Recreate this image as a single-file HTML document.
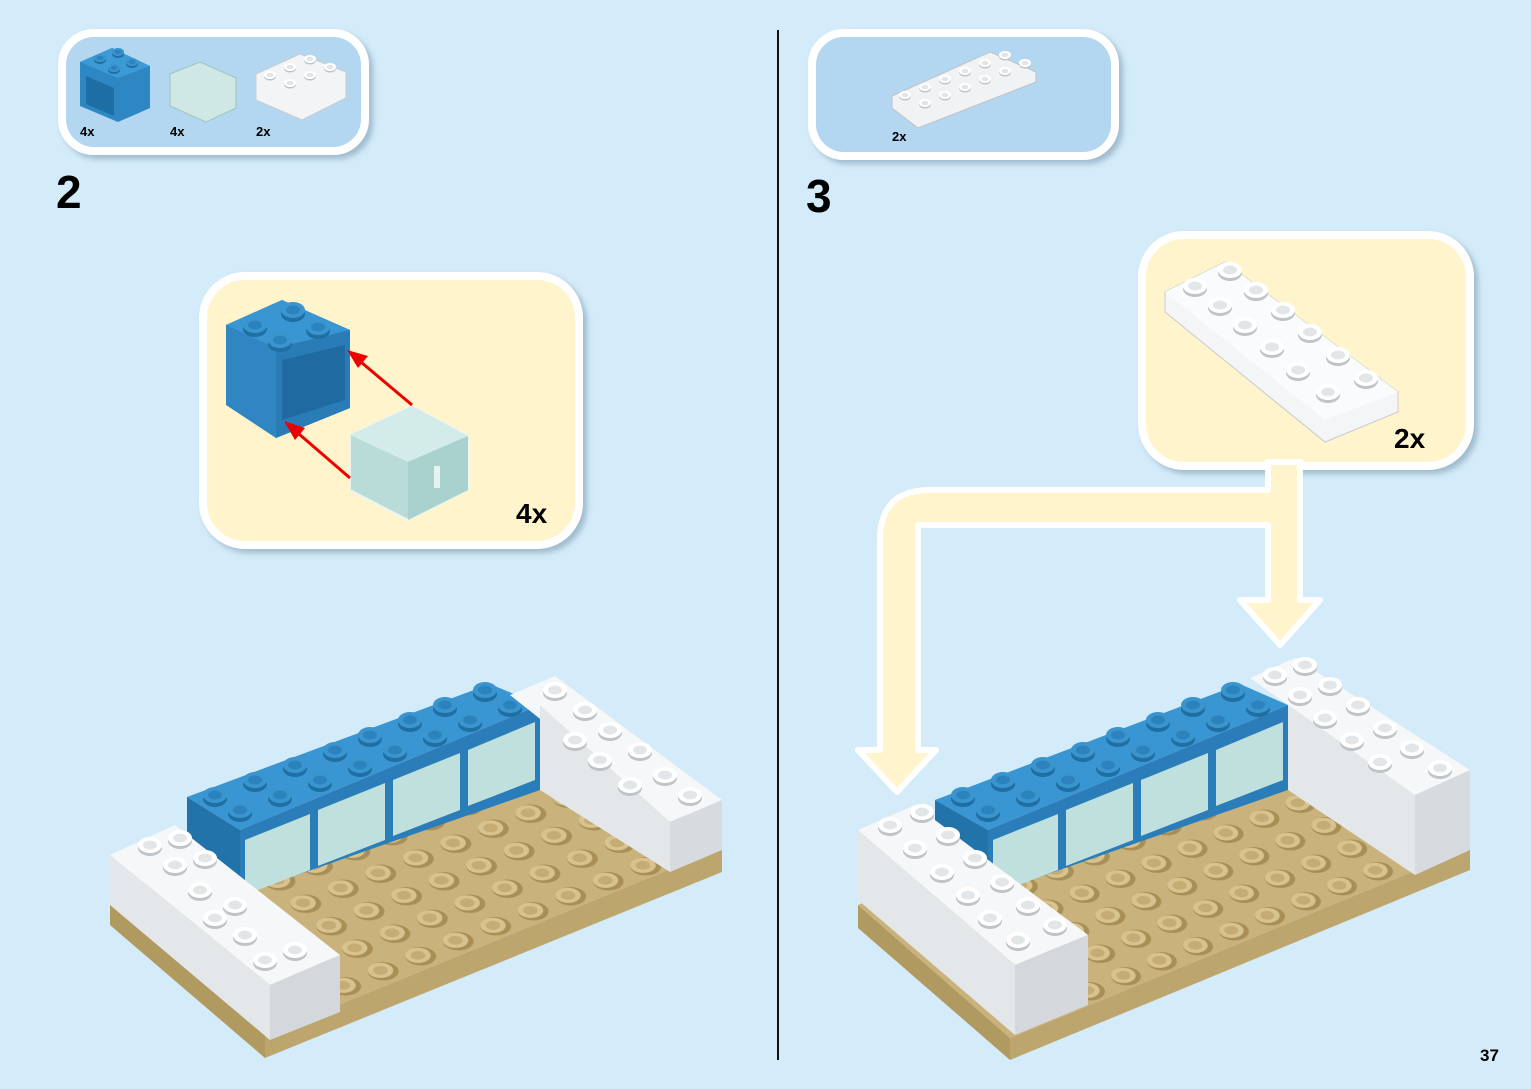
<!DOCTYPE html>
<html><head><meta charset="utf-8"><style>
html,body{margin:0;padding:0;background:#d4ebf9;}
svg{display:block;font-family:"Liberation Sans",sans-serif;}
</style></head><body>
<svg width="1531" height="1089" viewBox="0 0 1531 1089">
<defs>
<filter id="sh" x="-10%" y="-10%" width="130%" height="130%"><feDropShadow dx="4" dy="4" stdDeviation="3" flood-color="#7a9bb0" flood-opacity="0.6"/></filter>
<pattern id="studL" patternUnits="userSpaceOnUse" width="1" height="1" patternTransform="matrix(37.5 -15 25.8 22.5 110 900)">
<circle cx="0.5" cy="0.5" r="0.34" fill="#a98f55"/><circle cx="0.47" cy="0.44" r="0.28" fill="#d8c38e"/><circle cx="0.47" cy="0.44" r="0.16" fill="#c4ac74"/></pattern>
<pattern id="studR" patternUnits="userSpaceOnUse" width="1" height="1" patternTransform="matrix(36 -15 25.8 22.5 858 905)">
<circle cx="0.5" cy="0.5" r="0.34" fill="#a98f55"/><circle cx="0.47" cy="0.44" r="0.28" fill="#d8c38e"/><circle cx="0.47" cy="0.44" r="0.16" fill="#c4ac74"/></pattern>
<g id="wst"><ellipse cx="0" cy="3" rx="12" ry="8" fill="#bfc4c8"/><ellipse cx="0" cy="0" rx="12" ry="8" fill="#fff"/><ellipse cx="0" cy="0" rx="7" ry="4.5" fill="#e3e6e8"/></g>
<g id="bst"><ellipse cx="0" cy="4" rx="12" ry="8" fill="#1f6fa3"/><ellipse cx="0" cy="0" rx="12" ry="8" fill="#3a95cf"/><ellipse cx="0" cy="0" rx="7" ry="4.5" fill="#2b82bd"/></g>
</defs>

<line x1="778" y1="30" x2="778" y2="1060" stroke="#111" stroke-width="2"/>

<!-- parts box 1 -->
<rect x="62" y="33" width="303" height="118" rx="32" fill="#b3d6f1" stroke="#fff" stroke-width="8" filter="url(#sh)"/>
<polygon points="80,62 112,48 150,66 150,108 118,122 80,106" fill="#2e87c3"/>
<polygon points="80,62 118,78 150,66 112,48" fill="#3c9ad6"/>
<polygon points="86,76 114,88 114,116 86,104" fill="#1c6ea5"/>
<use href="#bst" transform="translate(100,58) scale(0.5)"/><use href="#bst" transform="translate(118,52) scale(0.5)"/><use href="#bst" transform="translate(114,68) scale(0.5)"/><use href="#bst" transform="translate(132,62) scale(0.5)"/>
<polygon points="170,74 200,62 236,78 236,108 206,122 170,106" fill="#cfe8e4" stroke="#9fc5c0"/>
<polygon points="256,74 300,54 346,72 346,98 302,120 256,100" fill="#f3f4f5" stroke="#c9ccd0"/>
<g transform="scale(0.5)">
<use href="#wst" transform="translate(540,150)"/><use href="#wst" transform="translate(580,134)"/><use href="#wst" transform="translate(620,118)"/>
<use href="#wst" transform="translate(580,166)"/><use href="#wst" transform="translate(620,150)"/><use href="#wst" transform="translate(660,134)"/>
</g>
<text x="80" y="136" font-size="13" font-weight="bold">4x</text>
<text x="170" y="136" font-size="13" font-weight="bold">4x</text>
<text x="256" y="136" font-size="13" font-weight="bold">2x</text>
<text x="56" y="208" font-size="46" font-weight="bold">2</text>

<!-- parts box 2 -->
<rect x="812" y="33" width="303" height="123" rx="32" fill="#b3d6f1" stroke="#fff" stroke-width="8" filter="url(#sh)"/>
<polygon points="892,96 990,52 1036,72 1036,82 918,128 892,108" fill="#f1f2f3" stroke="#bfc3c7"/>
<g transform="scale(0.5)">
<use href="#wst" transform="translate(1810,190)"/><use href="#wst" transform="translate(1850,174)"/><use href="#wst" transform="translate(1890,158)"/><use href="#wst" transform="translate(1930,142)"/><use href="#wst" transform="translate(1970,126)"/><use href="#wst" transform="translate(2010,110)"/>
<use href="#wst" transform="translate(1850,206)"/><use href="#wst" transform="translate(1890,190)"/><use href="#wst" transform="translate(1930,174)"/><use href="#wst" transform="translate(1970,158)"/><use href="#wst" transform="translate(2010,142)"/><use href="#wst" transform="translate(2050,126)"/>
</g>
<text x="892" y="141" font-size="13" font-weight="bold">2x</text>
<text x="806" y="212" font-size="46" font-weight="bold">3</text>

<!-- callout 1 -->
<rect x="203" y="276" width="376" height="269" rx="42" fill="#fff4cc" stroke="#fff" stroke-width="8" filter="url(#sh)"/>
<polygon points="226,325 282,300 350,330 350,408 276,438 226,405" fill="#2f86c2"/>
<polygon points="226,325 276,348 350,330 282,300" fill="#3a96d2"/>
<polygon points="276,348 350,330 350,408 276,438" fill="#2a7cb6"/>
<polygon points="282,360 345,345 345,400 282,420" fill="#1f6aa0"/>
<use href="#bst" transform="translate(255,325)"/><use href="#bst" transform="translate(293,310)"/><use href="#bst" transform="translate(280,340)"/><use href="#bst" transform="translate(318,327)"/>
<polygon points="350,435 412,406 468,436 468,490 408,520 350,490" fill="#b9dcd8" stroke="#eaf6f4" stroke-width="2"/>
<polygon points="350,435 408,462 468,436 412,406" fill="#d3ece9"/>
<polygon points="408,462 468,436 468,490 408,520" fill="#a9d1cd"/>
<rect x="434" y="466" width="6" height="22" fill="#e6f3f1"/>
<line x1="412" y1="405" x2="355" y2="357" stroke="#e00" stroke-width="3"/>
<polygon points="347,350 368,356 358,368" fill="#e00"/>
<line x1="350" y1="478" x2="292" y2="428" stroke="#e00" stroke-width="3"/>
<polygon points="284,421 305,428 295,440" fill="#e00"/>
<text x="516" y="523" font-size="28" font-weight="bold">4x</text>

<!-- callout 2 -->
<rect x="1142" y="235" width="328" height="231" rx="42" fill="#fff4cc" stroke="#fff" stroke-width="8" filter="url(#sh)"/>
<polygon points="1165,292 1225,262 1398,392 1398,412 1325,442 1165,312" fill="#f4f5f6" stroke="#c7cbcf"/>
<polygon points="1165,292 1325,420 1398,392 1225,262" fill="#fafbfc"/>
<g>
<use href="#wst" transform="translate(1195,286)"/><use href="#wst" transform="translate(1230,270)"/>
<use href="#wst" transform="translate(1220,305)"/><use href="#wst" transform="translate(1256,290)"/>
<use href="#wst" transform="translate(1245,325)"/><use href="#wst" transform="translate(1283,310)"/>
<use href="#wst" transform="translate(1272,347)"/><use href="#wst" transform="translate(1310,332)"/>
<use href="#wst" transform="translate(1298,370)"/><use href="#wst" transform="translate(1338,355)"/>
<use href="#wst" transform="translate(1328,392)"/><use href="#wst" transform="translate(1366,378)"/>
</g>
<text x="1394" y="448" font-size="28" font-weight="bold">2x</text>

<!-- yellow arrows -->
<g fill="#fff4cc" stroke="#fff" stroke-width="6" stroke-linejoin="round">
<path d="M1268,462 L1300,462 L1300,600 L1320,600 L1280,645 L1240,600 L1268,600 L1268,525 L918,525 L918,750 L936,750 L897,792 L858,750 L880,750 L880,540 Q880,490 930,490 L1268,490 Z"/>
</g>

<!-- left model -->
<polygon points="110,900 265,1035 265,1058 110,925" fill="#b09a60"/>
<polygon points="265,1035 722,848 722,872 265,1058" fill="#bca66d"/>
<polygon points="110,900 560,720 722,848 265,1035" fill="#c9b27b"/>
<polygon points="110,900 560,720 722,848 265,1035" fill="url(#studL)"/>
<polygon points="187,797 490,684 540,705 240,830" fill="#3a96d2"/>
<polygon points="240,830 540,705 540,790 240,895" fill="#2a7db8"/>
<polygon points="187,797 240,830 240,895 187,862" fill="#2273aa"/>
<polygon points="245,840 310,814 310,870 245,895" fill="#bfe0dc"/>
<polygon points="318,810 385,783 385,840 318,866" fill="#bfe0dc"/>
<polygon points="393,780 460,753 460,810 393,836" fill="#bfe0dc"/>
<polygon points="468,750 535,722 535,780 468,806" fill="#bfe0dc"/>
<g>
<use href="#bst" transform="translate(215,795)"/><use href="#bst" transform="translate(255,780)"/><use href="#bst" transform="translate(240,810)"/><use href="#bst" transform="translate(280,795)"/>
<use href="#bst" transform="translate(295,765)"/><use href="#bst" transform="translate(335,750)"/><use href="#bst" transform="translate(320,780)"/><use href="#bst" transform="translate(360,765)"/>
<use href="#bst" transform="translate(370,735)"/><use href="#bst" transform="translate(410,720)"/><use href="#bst" transform="translate(395,750)"/><use href="#bst" transform="translate(435,735)"/>
<use href="#bst" transform="translate(445,705)"/><use href="#bst" transform="translate(485,690)"/><use href="#bst" transform="translate(470,720)"/><use href="#bst" transform="translate(510,705)"/>
</g>
<polygon points="510,695 555,676 722,800 670,822" fill="#f6f7f8"/>
<polygon points="540,705 670,822 670,872 540,790" fill="#e4e7ea"/>
<polygon points="670,822 722,800 722,850 670,872" fill="#d7dbdf"/>
<use href="#wst" transform="translate(555,690)"/><use href="#wst" transform="translate(585,710)"/><use href="#wst" transform="translate(610,730)"/><use href="#wst" transform="translate(575,740)"/><use href="#wst" transform="translate(600,760)"/><use href="#wst" transform="translate(640,750)"/><use href="#wst" transform="translate(665,775)"/><use href="#wst" transform="translate(630,785)"/><use href="#wst" transform="translate(690,795)"/>
<polygon points="110,855 175,825 340,955 270,985" fill="#f6f7f8"/>
<polygon points="110,855 270,985 270,1040 110,905" fill="#e4e7ea"/>
<polygon points="270,985 340,955 340,1012 270,1040" fill="#d4d8dc"/>
<use href="#wst" transform="translate(150,845)"/><use href="#wst" transform="translate(180,838)"/><use href="#wst" transform="translate(175,865)"/><use href="#wst" transform="translate(205,858)"/><use href="#wst" transform="translate(200,890)"/><use href="#wst" transform="translate(235,905)"/><use href="#wst" transform="translate(215,918)"/><use href="#wst" transform="translate(245,935)"/><use href="#wst" transform="translate(265,960)"/><use href="#wst" transform="translate(295,950)"/>

<!-- right model -->
<polygon points="858,905 1010,1038 1010,1060 858,928" fill="#b09a60"/>
<polygon points="1010,1038 1470,848 1470,870 1010,1060" fill="#bca66d"/>
<polygon points="858,905 1290,715 1470,848 1010,1038" fill="#c9b27b"/>
<polygon points="858,905 1290,715 1470,848 1010,1038" fill="url(#studR)"/>
<polygon points="935,800 1240,684 1288,705 988,830" fill="#3a96d2"/>
<polygon points="988,830 1288,705 1288,790 988,895" fill="#2a7db8"/>
<polygon points="935,800 988,830 988,895 935,862" fill="#2273aa"/>
<polygon points="993,840 1058,814 1058,870 993,895" fill="#bfe0dc"/>
<polygon points="1066,810 1133,783 1133,840 1066,866" fill="#bfe0dc"/>
<polygon points="1141,780 1208,753 1208,810 1141,836" fill="#bfe0dc"/>
<polygon points="1216,750 1283,722 1283,780 1216,806" fill="#bfe0dc"/>
<g>
<use href="#bst" transform="translate(963,795)"/><use href="#bst" transform="translate(1003,780)"/><use href="#bst" transform="translate(988,810)"/><use href="#bst" transform="translate(1028,795)"/>
<use href="#bst" transform="translate(1043,765)"/><use href="#bst" transform="translate(1083,750)"/><use href="#bst" transform="translate(1068,780)"/><use href="#bst" transform="translate(1108,765)"/>
<use href="#bst" transform="translate(1118,735)"/><use href="#bst" transform="translate(1158,720)"/><use href="#bst" transform="translate(1143,750)"/><use href="#bst" transform="translate(1183,735)"/>
<use href="#bst" transform="translate(1193,705)"/><use href="#bst" transform="translate(1233,690)"/><use href="#bst" transform="translate(1218,720)"/><use href="#bst" transform="translate(1258,705)"/>
</g>
<polygon points="1250,678 1295,658 1470,770 1415,795" fill="#f6f7f8"/>
<polygon points="1288,705 1415,795 1415,875 1288,790" fill="#e4e7ea"/>
<polygon points="1415,795 1470,770 1470,850 1415,875" fill="#d7dbdf"/>
<use href="#wst" transform="translate(1275,675)"/><use href="#wst" transform="translate(1305,665)"/><use href="#wst" transform="translate(1300,695)"/><use href="#wst" transform="translate(1330,685)"/><use href="#wst" transform="translate(1325,718)"/><use href="#wst" transform="translate(1358,705)"/><use href="#wst" transform="translate(1352,740)"/><use href="#wst" transform="translate(1385,728)"/><use href="#wst" transform="translate(1380,762)"/><use href="#wst" transform="translate(1412,748)"/><use href="#wst" transform="translate(1440,768)"/>
<polygon points="858,830 915,805 1088,935 1015,965" fill="#f6f7f8"/>
<polygon points="858,830 1015,965 1015,1035 858,900" fill="#e4e7ea"/>
<polygon points="1015,965 1088,935 1088,1005 1015,1035" fill="#d4d8dc"/>
<use href="#wst" transform="translate(890,825)"/><use href="#wst" transform="translate(922,812)"/><use href="#wst" transform="translate(915,848)"/><use href="#wst" transform="translate(948,835)"/><use href="#wst" transform="translate(942,872)"/><use href="#wst" transform="translate(975,858)"/><use href="#wst" transform="translate(968,895)"/><use href="#wst" transform="translate(1002,882)"/><use href="#wst" transform="translate(990,918)"/><use href="#wst" transform="translate(1028,905)"/><use href="#wst" transform="translate(1018,940)"/><use href="#wst" transform="translate(1055,925)"/>

<text x="1480" y="1061" font-size="17" font-weight="bold">37</text>
</svg>
</body></html>
